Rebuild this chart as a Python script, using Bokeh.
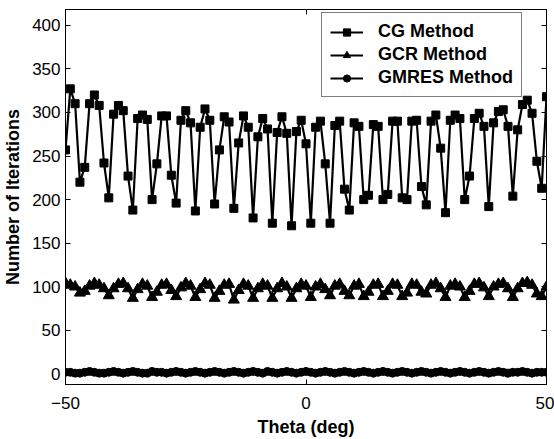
from bokeh.plotting import figure
from bokeh.models import LinearAxis, FixedTicker, Range1d, Legend, LegendItem
from bokeh.embed import file_html
from bokeh.resources import INLINE

theta = list(range(-50, 51))

cg = [257, 327, 310, 220, 237, 310, 320, 308, 242, 202,
      298, 308, 302, 227, 188, 293, 297, 292, 200, 241,
      296, 296, 228, 196, 291, 302, 288, 187, 283, 304,
      291, 195, 257, 295, 289, 190, 265, 296, 283, 179,
      272, 293, 281, 173, 277, 295, 276, 170, 278, 291,
      264, 173, 283, 290, 241, 173, 285, 290, 212, 188,
      288, 284, 200, 205, 286, 284, 200, 206, 290, 290,
      202, 200, 290, 291, 215, 194, 290, 297, 259, 185,
      291, 297, 293, 200, 227, 293, 299, 284, 192, 288,
      301, 303, 284, 204, 280, 309, 314, 299, 244, 213,
      318]

gcr = [104, 102, 100, 93, 95, 101, 104, 102, 98, 90,
       98, 103, 104, 98, 87, 97, 103, 101, 88, 94,
       102, 103, 96, 89, 99, 104, 101, 88, 97, 104,
       102, 87, 95, 102, 103, 85, 96, 103, 101, 87,
       98, 103, 101, 87, 98, 104, 100, 87, 98, 103,
       101, 88, 100, 103, 97, 90, 101, 103, 95, 90,
       101, 103, 89, 94, 102, 103, 89, 95, 103, 102,
       89, 93, 103, 102, 94, 92, 102, 104, 98, 88,
       101, 103, 100, 88, 95, 103, 104, 99, 89, 100,
       103, 104, 98, 88, 98, 104, 105, 102, 92, 89,
       100]

gmres = [2, 2, 1, 1, 2, 3, 2, 1, 1, 2,
         3, 2, 1, 2, 3, 2, 1, 1, 3, 2,
         2, 1, 2, 3, 2, 1, 2, 3, 2, 1,
         2, 3, 2, 1, 2, 3, 2, 1, 2, 3,
         2, 1, 3, 2, 1, 2, 3, 2, 1, 2,
         3, 2, 1, 2, 3, 2, 1, 2, 3, 2,
         1, 2, 3, 2, 1, 2, 3, 2, 1, 2,
         3, 2, 1, 2, 3, 2, 1, 2, 3, 2,
         1, 2, 3, 2, 1, 2, 3, 2, 1, 2,
         3, 2, 1, 2, 2, 3, 2, 1, 2, 2,
         2]

x_ticks = [-50, 0, 50]
y_ticks = [0, 50, 100, 150, 200, 250, 300, 350, 400]
series_names = ["CG Method", "GCR Method", "GMRES Method"]

FONT = "Liberation Sans"

p = figure(width=554, height=439, output_backend="svg", toolbar_location=None,
           x_range=Range1d(-50, 50), y_range=Range1d(-12, 418),
           min_border_left=64, min_border_right=8, min_border_top=9, min_border_bottom=53)
p.xgrid.visible = False
p.ygrid.visible = False
p.outline_line_color = "black"
p.outline_line_width = 1
p.background_fill_color = "white"
p.border_fill_color = "white"

def style_axis(ax, ticks):
    ax.ticker = FixedTicker(ticks=ticks)
    ax.major_tick_in = 5
    ax.major_tick_out = 0
    ax.minor_tick_line_color = None
    ax.axis_line_color = "black"
    ax.major_tick_line_color = "black"
    ax.major_label_text_font = FONT
    ax.major_label_text_color = "black"
    ax.major_label_text_font_size = "17px"

def style_mirror_axis(ax, ticks):
    # label-free mirror axis: ticks given as minor ticks (which carry no labels)
    ax.ticker = FixedTicker(ticks=[], minor_ticks=ticks)
    ax.major_tick_line_color = None
    ax.major_tick_in = 0
    ax.major_tick_out = 0
    ax.minor_tick_in = 5
    ax.minor_tick_out = 0
    ax.minor_tick_line_color = "black"
    ax.axis_line_color = "black"
    ax.major_label_standoff = 0

style_axis(p.xaxis[0], x_ticks)
style_axis(p.yaxis[0], y_ticks)
p.xaxis[0].major_label_standoff = 12
p.yaxis[0].major_label_standoff = 5
p.xaxis[0].axis_label = "Theta (deg)"
p.yaxis[0].axis_label = "Number of Iterations"
for ax in (p.xaxis[0], p.yaxis[0]):
    ax.axis_label_text_font = FONT
    ax.axis_label_text_font_style = "bold"
    ax.axis_label_text_font_size = "18px"
    ax.axis_label_text_color = "black"
p.xaxis[0].axis_label_standoff = 5
p.yaxis[0].axis_label_standoff = 6

top_ax = LinearAxis()
style_mirror_axis(top_ax, x_ticks)
p.add_layout(top_ax, "above")
right_ax = LinearAxis()
style_mirror_axis(right_ax, y_ticks)
p.add_layout(right_ax, "right")

l1 = p.line(theta, cg, line_color="black", line_width=2.2)
m1 = p.scatter(theta, cg, marker="square", size=8, fill_color="black", line_color="black")
l2 = p.line(theta, gcr, line_color="black", line_width=2.2)
m2 = p.scatter(theta, gcr, marker="triangle", size=11, fill_color="black", line_color="black")
l3 = p.line(theta, gmres, line_color="black", line_width=2.2)
m3 = p.scatter(theta, gmres, marker="circle", size=8, fill_color="black", line_color="black")

legend = Legend(items=[
    LegendItem(label=series_names[0], renderers=[l1, m1]),
    LegendItem(label=series_names[1], renderers=[l2, m2]),
    LegendItem(label=series_names[2], renderers=[l3, m3]),
], location=(256, 287))
legend.label_text_font = FONT
legend.label_text_font_style = "bold"
legend.label_text_font_size = "18px"
legend.label_text_color = "black"
legend.border_line_color = "black"
legend.border_line_width = 1
legend.background_fill_color = "white"
legend.background_fill_alpha = 1
legend.glyph_width = 33
legend.glyph_height = 18
legend.label_height = 18
legend.label_standoff = 15
legend.spacing = 2
legend.padding = 8
legend.margin = 0
p.add_layout(legend, "center")

open("out.html", "w").write(file_html(p, INLINE))
